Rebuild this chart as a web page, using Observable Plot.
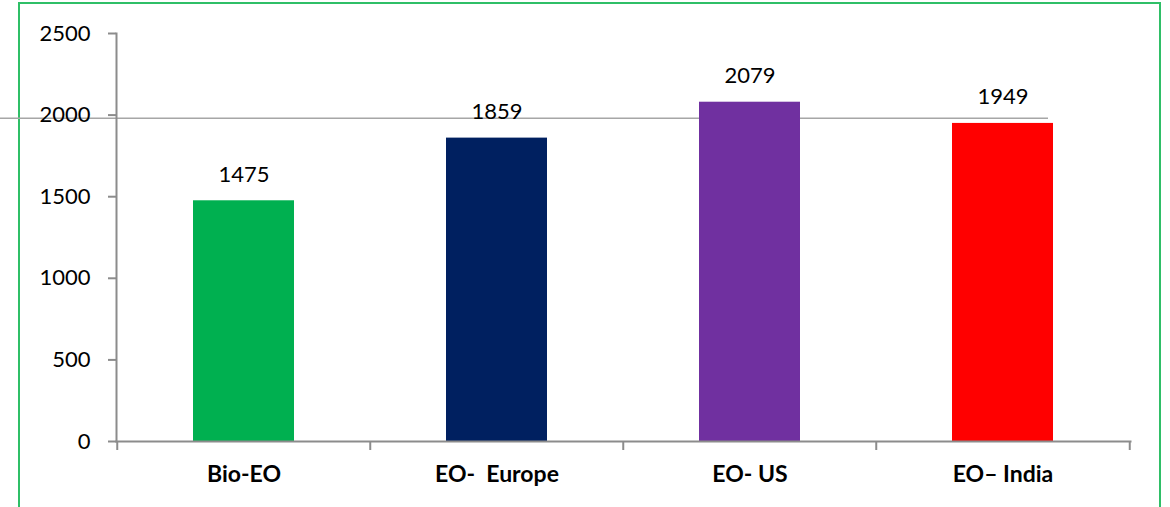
<!DOCTYPE html>
<html>
<head>
<meta charset="utf-8">
<script src="https://cdn.jsdelivr.net/npm/d3@7"></script>
<script src="https://cdn.jsdelivr.net/npm/@observablehq/plot@0.6"></script>
<style>
  html, body { margin: 0; padding: 0; background: #fff; }
  #wrap { position: relative; width: 1170px; height: 507px; overflow: hidden; background: #fff; }
  #border { position: absolute; left: 18px; top: 2px; width: 1139px; height: 560px; border: 2px solid #2fbf67; }
  #chart { position: absolute; left: 0; top: 0; }
</style>
</head>
<body>
<div id="wrap"><div id="border"></div><div id="chart"></div></div>
<script>
const categories = ["Bio-EO", "EO-  Europe", "EO- US", "EO\u2013 India"];
const values = [1475, 1859, 2079, 1949];
const colors = ["#00b050", "#002060", "#7030a0", "#ff0000"];
const yTicks = [0, 500, 1000, 1500, 2000, 2500];
const strayLine = [1980];

const data = categories.map((c, i) => ({category: c, value: values[i], color: colors[i]}));
const bw = (1130 - 116) / categories.length;
const gray = "#8c8c8c";
const font = "Lato, 'Open Sans', sans-serif";

const chart = Plot.plot({
  width: 1170,
  height: 507,
  marginLeft: 116,
  marginRight: 40,
  marginTop: 33,
  marginBottom: 66,
  style: {fontFamily: font, background: "transparent", color: "#000"},
  x: {domain: categories, paddingInner: 0.6, paddingOuter: 0.3, align: 0.5, label: null},
  y: {domain: [0, 2500], label: null},
  marks: [
    Plot.ruleY(strayLine, {stroke: "#a6a6a6", strokeWidth: 1.5, insetLeft: -116, insetRight: 82}),
    Plot.barY(data, {x: "category", y: "value", fill: "color"}),
    Plot.text(data, {x: "category", y: "value", text: d => String(d.value), dy: -26, fontSize: 22, fill: "#000"}),
    Plot.axisY({ticks: yTicks, tickSize: 8, tickPadding: 18, fontSize: 22, stroke: gray, strokeWidth: 2, tickFormat: d => String(d), label: null}),
    Plot.axisX({tickSize: 0, tickPadding: 24, fontSize: 23, fontWeight: "bold", label: null}),
    Plot.frame({anchor: "left", stroke: gray, strokeWidth: 2}),
    Plot.frame({anchor: "bottom", stroke: gray, strokeWidth: 2}),
    Plot.ruleX(categories, {x: d => d, y1: 0, y2: 0, dx: -bw / 2, insetBottom: -9, stroke: gray, strokeWidth: 2}),
    Plot.ruleX([categories[categories.length - 1]], {x: d => d, y1: 0, y2: 0, dx: bw / 2, insetBottom: -9, stroke: gray, strokeWidth: 2})
  ]
});
document.getElementById("chart").appendChild(chart);
</script>
</body>
</html>
